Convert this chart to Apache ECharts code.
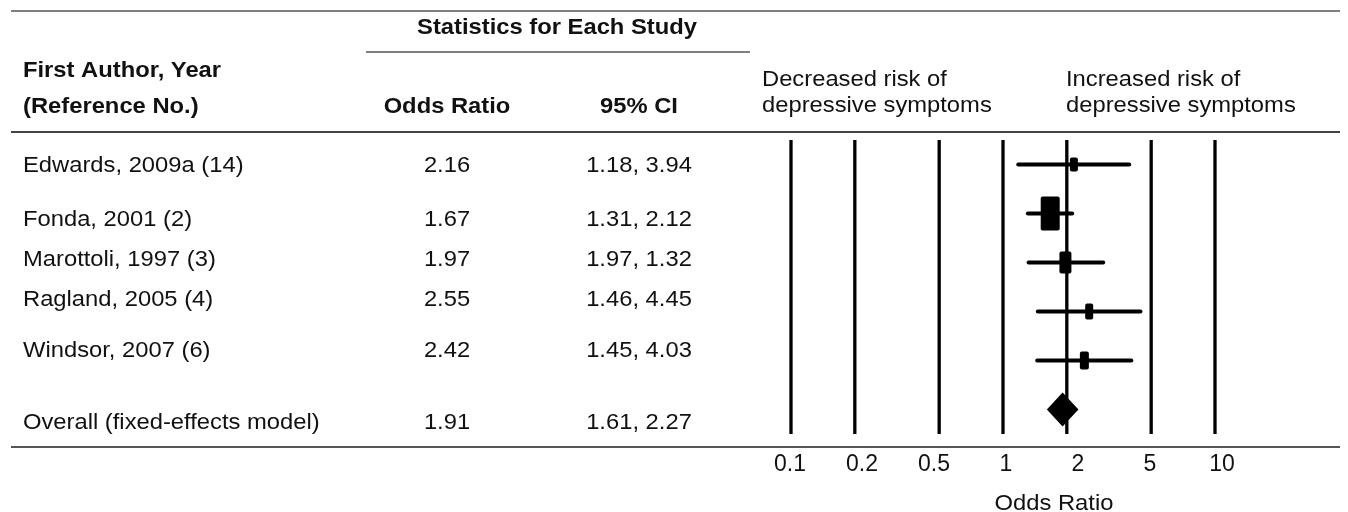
<!DOCTYPE html>
<html><head><meta charset="utf-8">
<script src="https://cdn.jsdelivr.net/npm/echarts@6/dist/echarts.min.js"></script>
<style>html,body{margin:0;padding:0;background:#fff}#c{width:1348px;height:512px}</style>
</head><body><div id="c"></div>
<script>
// ---- data ----
const studies = ['Edwards, 2009a (14)', 'Fonda, 2001 (2)', 'Marottoli, 1997 (3)', 'Ragland, 2005 (4)', 'Windsor, 2007 (6)', 'Overall (fixed-effects model)'];
const oddsRatio = [2.16, 1.67, 1.97, 2.55, 2.42, 1.91];
const ciLower = [1.18, 1.31, 1.32, 1.46, 1.45, 1.61];
const ciUpper = [3.94, 2.12, 2.97, 4.45, 4.03, 2.27];
const ciLabels = ['1.18, 3.94', '1.31, 2.12', '1.97, 1.32', '1.46, 4.45', '1.45, 4.03', '1.61, 2.27'];
const gridValues = [0.1, 0.2, 0.5, 1, 2, 5, 10];
const tickLabels = ['0.1', '0.2', '0.5', '1', '2', '5', '10'];

// ---- layout / style ----
const FONT = "'Liberation Sans', Arial, Helvetica, sans-serif";
const SX = 1.08;
const DY = 1.5;
const boxSize = [[8, 14], [19, 34], [12, 22], [8, 16], [9, 18]];
const rowTextY = [164, 218.5, 258, 298, 349, 421];
const diamondHalf = 17;

function txt(x, y, s, align, bold, size) {
  return {
    type: 'text', x: x, y: y + DY, scaleX: SX, silent: true,
    style: {
      text: s, fontSize: size || 22, fontFamily: FONT, fontWeight: bold ? 'bold' : 'normal',
      fill: '#111', align: align, verticalAlign: 'middle',
      textAlign: align, textVerticalAlign: 'middle'
    }
  };
}
function hline(x1, x2, y, w, c) {
  return { type: 'line', silent: true, shape: { x1: x1, y1: y, x2: x2, y2: y }, style: { stroke: c || '#555', lineWidth: w } };
}

const graphics = [
  hline(11, 1340, 11, 1.5),
  hline(366, 750, 52, 1.5),
  hline(11, 1340, 132, 2, '#444'),
  hline(11, 1340, 447, 2, '#555'),
  txt(557, 26, 'Statistics for Each Study', 'center', true),
  txt(23, 69, 'First Author, Year', 'left', true),
  txt(23, 105, '(Reference No.)', 'left', true),
  txt(447, 105, 'Odds Ratio', 'center', true),
  txt(639, 105, '95% CI', 'center', true),
  txt(762, 78, 'Decreased risk of', 'left', false),
  txt(762, 104.5, 'depressive symptoms', 'left', false),
  txt(1066, 78, 'Increased risk of', 'left', false),
  txt(1066, 104.5, 'depressive symptoms', 'left', false),
  txt(1054, 502, 'Odds Ratio', 'center', false)
];
studies.forEach(function (s, i) {
  graphics.push(txt(23, rowTextY[i], s, 'left', false));
  graphics.push(txt(447, rowTextY[i], oddsRatio[i].toFixed(2), 'center', false));
  graphics.push(txt(639, rowTextY[i], ciLabels[i], 'center', false));
});

const chart = echarts.init(document.getElementById('c'), null, { renderer: 'canvas' });
chart.setOption({
  animation: false,
  backgroundColor: '#fff',
  grid: [
    { left: 791, width: 424, top: 140, height: 294 },
    { left: 790, width: 432, top: 440, height: 1 }
  ],
  xAxis: [
    { type: 'log', logBase: 10, min: 0.1, max: 10, gridIndex: 0,
      axisLine: { show: false }, axisTick: { show: false }, axisLabel: { show: false }, splitLine: { show: false } },
    { type: 'category', gridIndex: 1, data: tickLabels, boundaryGap: false, position: 'bottom',
      axisLine: { show: false }, axisTick: { show: false }, splitLine: { show: false },
      axisLabel: { interval: 0, margin: 12, fontSize: 23, fontFamily: FONT, color: '#111' } }
  ],
  yAxis: [
    { type: 'value', min: -0.5, max: 5.5, inverse: true, gridIndex: 0, show: false },
    { type: 'value', gridIndex: 1, show: false }
  ],
  graphic: graphics,
  series: [
    {
      type: 'custom', xAxisIndex: 0, yAxisIndex: 0, silent: true,
      data: gridValues.map(function (v) { return [v, 0]; }),
      encode: { x: 0, y: 1 },
      renderItem: function (params, api) {
        const v = api.value(0);
        const p1 = api.coord([v, -0.5]);
        const p2 = api.coord([v, 5.5]);
        return { type: 'line', shape: { x1: p1[0], y1: p1[1], x2: p2[0], y2: p2[1] }, style: { stroke: '#000', lineWidth: 3.3 } };
      }
    },
    {
      type: 'custom', xAxisIndex: 0, yAxisIndex: 0, silent: true,
      data: studies.map(function (s, i) { return [oddsRatio[i], ciLower[i], ciUpper[i], i]; }),
      encode: { x: [0, 1, 2], y: 3 },
      renderItem: function (params, api) {
        const i = api.value(3);
        const c = api.coord([api.value(0), i]);
        const lo = api.coord([api.value(1), i]);
        const hi = api.coord([api.value(2), i]);
        if (i < 5) {
          const bs = boxSize[i];
          return {
            type: 'group', children: [
              { type: 'line', shape: { x1: lo[0], y1: lo[1], x2: hi[0], y2: hi[1] }, style: { stroke: '#000', lineWidth: 4, lineCap: 'round' } },
              { type: 'rect', shape: { x: c[0] - bs[0] / 2, y: c[1] - bs[1] / 2, width: bs[0], height: bs[1], r: 2 }, style: { fill: '#000' } }
            ]
          };
        }
        return {
          type: 'polygon',
          shape: { points: [[lo[0], c[1]], [c[0], c[1] - diamondHalf], [hi[0], c[1]], [c[0], c[1] + diamondHalf]] },
          style: { fill: '#000' }
        };
      }
    }
  ]
});
</script>
</body></html>
